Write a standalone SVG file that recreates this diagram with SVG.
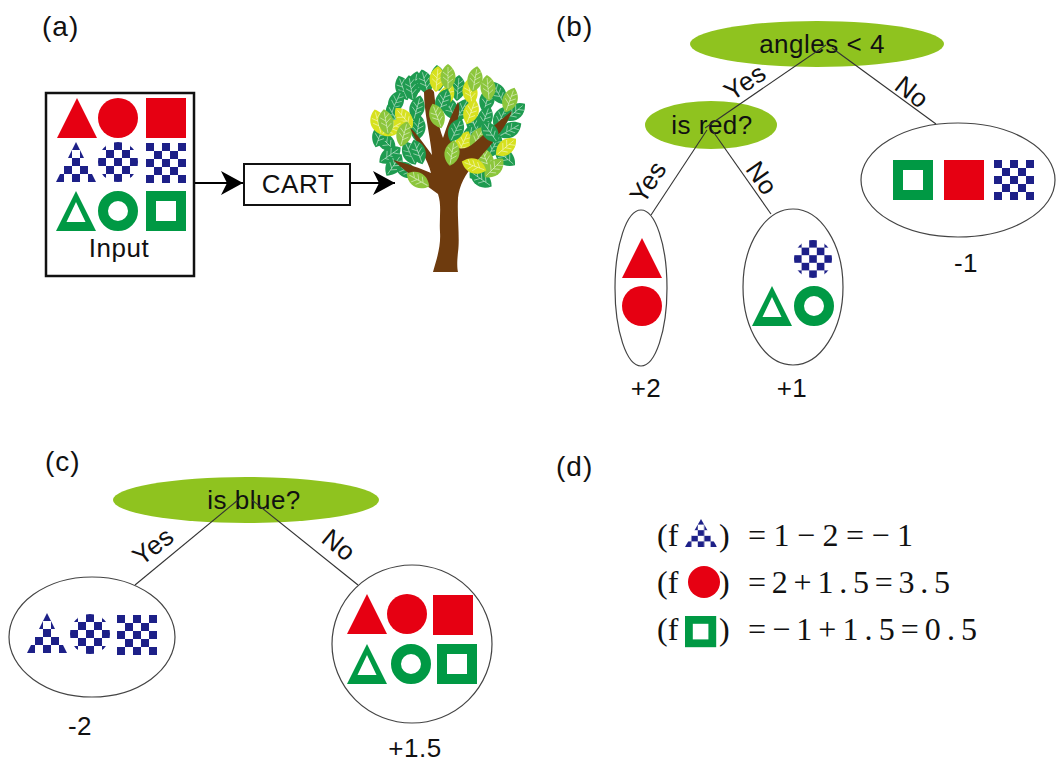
<svg xmlns="http://www.w3.org/2000/svg" xmlns:xlink="http://www.w3.org/1999/xlink" width="1062" height="762" viewBox="0 0 1062 762">
  <style>
    .lbl{font-family:"Liberation Sans",Arial,sans-serif;font-size:26px;letter-spacing:0.5px;fill:#111}
    .mid{text-anchor:middle}
    .pan{font-family:"Liberation Sans",Arial,sans-serif;font-size:28px;letter-spacing:1px;fill:#111}
    .eq{font-family:"Liberation Serif","Times New Roman",serif;font-size:32px;fill:#111}
    .q{fill:#8fc31f}
    .leafnode{fill:#fff;stroke:#444;stroke-width:1.2}
    .edge{stroke:#333;stroke-width:1.1;fill:none}
    .box{fill:#fff;stroke:#111;stroke-width:2.5}
    .l1{fill:#1e9b50}
    .l2{fill:#d7e11f}
    .l3{fill:#8cc63c}
  </style>
  <defs>
    <!-- 16px checker tile anchored at each shape's own 40x40 box -->
    <pattern id="chk" x="0" y="0" width="0.4" height="0.4" patternUnits="objectBoundingBox">
      <rect width="16" height="16" fill="#fff"/>
      <rect width="8" height="8" fill="#1d2088"/>
      <rect x="8" y="8" width="8" height="8" fill="#1d2088"/>
    </pattern>
    <marker id="arr" viewBox="0 0 22 24" refX="22" refY="12" markerWidth="22" markerHeight="24" markerUnits="userSpaceOnUse" orient="auto">
      <path d="M0,0 L22,12 L0,24 L6,12 Z" fill="#000"/>
    </marker>
    <!-- 40x40 shape tiles -->
    <g id="triR"><path d="M20,0L40,40H0Z" fill="#e60012"/></g>
    <g id="cirR"><circle cx="20" cy="20" r="20" fill="#e60012"/></g>
    <g id="sqR"><rect width="40" height="40" fill="#e60012"/></g>
    <g id="triB"><path d="M20,0L40,40H0Z" fill="url(#chk)"/></g>
    <g id="cirB"><circle cx="20" cy="20" r="20" fill="url(#chk)"/></g>
    <g id="sqB"><rect width="40" height="40" fill="url(#chk)"/></g>
    <g id="triG"><path d="M20,0L40,40H0Z M20,11L29.5,31H10.5Z" fill="#009944" fill-rule="evenodd"/></g>
    <g id="cirG"><circle cx="20" cy="20" r="15" fill="none" stroke="#009944" stroke-width="10"/></g>
    <g id="sqG"><rect x="5" y="5" width="30" height="30" fill="none" stroke="#009944" stroke-width="10"/></g>
    <!-- leaf with veins; fill comes from the referencing element -->
    <g id="lf">
      <path d="M0,-13 C10,-6 10,6 0,13 C-10,6 -10,-6 0,-13Z"/>
      <path d="M0,-10V11 M0,-4L4.5,-8 M0,1L5,-3 M0,6L5,2 M0,-1L-5,-5 M0,4L-5,0" fill="none" stroke="#fff" stroke-opacity=".5" stroke-width=".9"/>
    </g>
  </defs>

  <rect width="1062" height="762" fill="#fff"/>

  <!-- panel labels -->
  <text class="pan" x="42" y="36">(a)</text>
  <text class="pan" x="556" y="36">(b)</text>
  <text class="pan" x="45" y="471">(c)</text>
  <text class="pan" x="556" y="476">(d)</text>

  <!-- (a) input set -->
  <g id="input">
    <rect class="box" x="46" y="93" width="148" height="183"/>
    <use href="#triR" transform="translate(57,98)"/>
    <use href="#cirR" transform="translate(98,98)"/>
    <use href="#sqR" transform="translate(146,98)"/>
    <use href="#triB" transform="translate(56,142)"/>
    <use href="#cirB" transform="translate(98,142)"/>
    <use href="#sqB" transform="translate(146,143)"/>
    <use href="#triG" transform="translate(56,191)"/>
    <use href="#cirG" transform="translate(98,191)"/>
    <use href="#sqG" transform="translate(146,191)"/>
    <text class="lbl mid" x="119" y="257">Input</text>
  </g>

  <g id="cart">
    <rect x="244" y="164" width="106" height="41" fill="#fff" stroke="#111" stroke-width="2"/>
    <text class="lbl mid" x="298" y="193">CART</text>
  </g>

  <!-- (a) resulting tree -->
  <g id="tree">
    <g id="leaves-back">
      <use href="#lf" class="l1" transform="translate(403,88) rotate(-20)"/>
      <use href="#lf" class="l1" transform="translate(415,84) rotate(10)"/>
      <use href="#lf" class="l1" transform="translate(425,82) rotate(-15)"/>
      <use href="#lf" class="l1" transform="translate(396,102) rotate(25)"/>
      <use href="#lf" class="l1" transform="translate(394,116) rotate(-30)"/>
      <use href="#lf" class="l1" transform="translate(417,108) rotate(15)"/>
      <use href="#lf" class="l1" transform="translate(450,108) rotate(-25)"/>
      <use href="#lf" class="l1" transform="translate(458,88) rotate(5)"/>
      <use href="#lf" class="l1" transform="translate(462,110) rotate(30)"/>
      <use href="#lf" class="l1" transform="translate(474,124) rotate(-20)"/>
      <use href="#lf" class="l1" transform="translate(487,100) rotate(15)"/>
      <use href="#lf" class="l1" transform="translate(498,93) rotate(-30)"/>
      <use href="#lf" class="l1" transform="translate(501,118) rotate(25)"/>
      <use href="#lf" class="l1" transform="translate(515,112) rotate(50)"/>
      <use href="#lf" class="l1" transform="translate(386,142) rotate(-45)"/>
      <use href="#lf" class="l1" transform="translate(390,155) rotate(55)"/>
      <use href="#lf" class="l1" transform="translate(410,153) rotate(-25)"/>
      <use href="#lf" class="l1" transform="translate(418,128) rotate(10)"/>
      <use href="#lf" class="l1" transform="translate(460,160) rotate(-30)"/>
      <use href="#lf" class="l1" transform="translate(479,169) rotate(45)"/>
      <use href="#lf" class="l1" transform="translate(481,179) rotate(-55)"/>
      <use href="#lf" class="l1" transform="translate(494,146) rotate(30)"/>
      <use href="#lf" class="l1" transform="translate(505,157) rotate(-50)"/>
      <use href="#lf" class="l1" transform="translate(485,118) rotate(20)"/>
      <use href="#lf" class="l1" transform="translate(406,170) rotate(-60)"/>
      <use href="#lf" class="l1" transform="translate(394,165) rotate(35)"/>
      <use href="#lf" class="l1" transform="translate(470,137) rotate(10)"/>
      <use href="#lf" class="l1" transform="translate(438,78) rotate(-5)"/>
      <use href="#lf" class="l1" transform="translate(380,135) rotate(20)"/>
      <use href="#lf" class="l1" transform="translate(510,130) rotate(60)"/>
      <use href="#lf" class="l2" transform="translate(437,79) rotate(5)"/>
      <use href="#lf" class="l2" transform="translate(446,96) rotate(30)"/>
      <use href="#lf" class="l2" transform="translate(470,92) rotate(-10)"/>
      <use href="#lf" class="l2" transform="translate(471,112) rotate(20)"/>
      <use href="#lf" class="l2" transform="translate(404,118) rotate(-40)"/>
      <use href="#lf" class="l2" transform="translate(392,128) rotate(60)"/>
      <use href="#lf" class="l2" transform="translate(378,122) rotate(-15)"/>
      <use href="#lf" class="l2" transform="translate(463,143) rotate(25)"/>
      <use href="#lf" class="l2" transform="translate(506,147) rotate(50)"/>
      <use href="#lf" class="l3" transform="translate(448,77) rotate(0)"/>
      <use href="#lf" class="l3" transform="translate(475,79) rotate(10)"/>
      <use href="#lf" class="l3" transform="translate(488,88) rotate(-5)"/>
      <use href="#lf" class="l3" transform="translate(510,100) rotate(20)"/>
      <use href="#lf" class="l3" transform="translate(386,122) rotate(-10)"/>
      <use href="#lf" class="l3" transform="translate(404,134) rotate(15)"/>
      <use href="#lf" class="l3" transform="translate(478,138) rotate(30)"/>
      <use href="#lf" class="l3" transform="translate(486,160) rotate(-20)"/>
      <use href="#lf" class="l3" transform="translate(494,168) rotate(45)"/>
    </g>
    <path id="trunk" fill="#6e3b0e" d="M433,272 C437,258 441,246 440,232 C439,218 442,206 438,194 C428,186 410,176 393,160 C408,164 420,168 431,173 C428,160 418,146 410,128 C416,132 424,144 432,155 C430,135 424,112 424,92 C428,88 432,88 434,92 C436,110 438,125 443,138 C447,125 452,113 458,102 C461,108 458,122 451,145 C458,150 466,150 474,143 C486,133 498,122 512,111 C506,128 490,146 476,162 C465,174 459,186 458,198 C457,218 460,238 458,252 C457,262 457,268 458,272 Z"/>
    <g id="leaves-front">
      <use href="#lf" class="l1" transform="translate(411,88) rotate(-10)"/>
      <use href="#lf" class="l1" transform="translate(443,101) rotate(20)"/>
      <use href="#lf" class="l3" transform="translate(437,116) rotate(-20)"/>
      <use href="#lf" class="l1" transform="translate(456,130) rotate(25)"/>
      <use href="#lf" class="l1" transform="translate(418,152) rotate(-20)"/>
      <use href="#lf" class="l3" transform="translate(452,153) rotate(10)"/>
      <use href="#lf" class="l2" transform="translate(474,166) rotate(-70)"/>
      <use href="#lf" class="l3" transform="translate(418,180) rotate(-60)"/>
      <use href="#lf" class="l1" transform="translate(490,132) rotate(-35)"/>
    </g>
  </g>

  <!-- (b) first tree -->
  <g id="b-root">
    <ellipse class="q" cx="817" cy="44" rx="127" ry="23"/>
    <text class="lbl mid" x="822" y="53">angles &lt; 4</text>
  </g>
  <g id="b-isred">
    <ellipse class="q" cx="711" cy="125" rx="66" ry="24"/>
    <text class="lbl mid" x="712" y="134">is red?</text>
  </g>
  <g id="b-leaf-plus2">
    <ellipse class="leafnode" cx="641" cy="288" rx="26" ry="78"/>
    <use href="#triR" transform="translate(622,238)"/>
    <use href="#cirR" transform="translate(622,286)"/>
    <text class="lbl mid" x="646" y="397">+2</text>
  </g>
  <g id="b-leaf-plus1">
    <ellipse class="leafnode" cx="793" cy="287" rx="50" ry="78"/>
    <use href="#cirB" transform="translate(794,240) scale(0.95)"/>
    <use href="#triG" transform="translate(752,286)"/>
    <use href="#cirG" transform="translate(794,286)"/>
    <text class="lbl mid" x="792" y="397">+1</text>
  </g>
  <g id="b-leaf-minus1">
    <ellipse class="leafnode" cx="958" cy="180" rx="97" ry="57"/>
    <use href="#sqG" transform="translate(893,160)"/>
    <use href="#sqR" transform="translate(944,160)"/>
    <use href="#sqB" transform="translate(994,160)"/>
    <text class="lbl mid" x="966" y="272">-1</text>
  </g>

  <!-- (c) second tree -->
  <g id="c-isblue">
    <ellipse class="q" cx="246" cy="500" rx="133" ry="23"/>
    <text class="lbl mid" x="254" y="509">is blue?</text>
  </g>
  <g id="c-leaf-minus2">
    <ellipse class="leafnode" cx="92" cy="637" rx="83" ry="60"/>
    <use href="#triB" transform="translate(27,613)"/>
    <use href="#cirB" transform="translate(70,614)"/>
    <use href="#sqB" transform="translate(117,615)"/>
    <text class="lbl mid" x="80" y="735">-2</text>
  </g>
  <g id="c-leaf-plus15">
    <ellipse class="leafnode" cx="412" cy="644" rx="80" ry="79"/>
    <use href="#triR" transform="translate(347,594)"/>
    <use href="#cirR" transform="translate(387,594)"/>
    <use href="#sqR" transform="translate(433,595)"/>
    <use href="#triG" transform="translate(347,644)"/>
    <use href="#cirG" transform="translate(391,644)"/>
    <use href="#sqG" transform="translate(437,644)"/>
    <text class="lbl mid" x="415" y="757">+1.5</text>
  </g>

  <!-- connectors -->
  <g id="connectors">
    <line x1="195" y1="183" x2="243" y2="183" stroke="#000" stroke-width="2" marker-end="url(#arr)"/>
    <line x1="351" y1="183" x2="395" y2="183" stroke="#000" stroke-width="2" marker-end="url(#arr)"/>
    <line class="edge" x1="826" y1="45" x2="705" y2="128"/>
    <line class="edge" x1="832" y1="48" x2="936" y2="124"/>
    <line class="edge" x1="707" y1="130" x2="651" y2="215"/>
    <line class="edge" x1="712" y1="130" x2="771" y2="214"/>
    <line class="edge" x1="238" y1="500" x2="135" y2="585"/>
    <line class="edge" x1="252" y1="500" x2="358" y2="585"/>
    <text class="lbl mid" transform="translate(745,82) rotate(-34)" y="9">Yes</text>
    <text class="lbl mid" transform="translate(912,92) rotate(38)" y="9">No</text>
    <text class="lbl mid" transform="translate(648,182) rotate(-57)" y="9">Yes</text>
    <text class="lbl mid" transform="translate(762,178) rotate(55)" y="9">No</text>
    <text class="lbl mid" transform="translate(153,546) rotate(-38)" y="9">Yes</text>
    <text class="lbl mid" transform="translate(339,545) rotate(39)" y="9">No</text>
  </g>

  <!-- (d) summed scores -->
  <g id="scores">
    <text class="eq" x="657" y="546">(f</text>
    <use href="#triB" transform="translate(685,519) scale(0.8,0.7)"/>
    <text class="eq" x="719" y="546">)</text>
    <text class="eq" x="748" y="546" textLength="165" lengthAdjust="spacing">=1−2=−1</text>

    <text class="eq" x="657" y="593">(f</text>
    <use href="#cirR" transform="translate(688,566) scale(0.8)"/>
    <text class="eq" x="719" y="593">)</text>
    <text class="eq" x="748" y="593" textLength="202" lengthAdjust="spacing">=2+1.5=3.5</text>

    <text class="eq" x="657" y="640">(f</text>
    <use href="#sqG" transform="translate(685,616) scale(0.78)"/>
    <text class="eq" x="719" y="640">)</text>
    <text class="eq" x="748" y="640" textLength="229" lengthAdjust="spacing">=−1+1.5=0.5</text>
  </g>
</svg>
